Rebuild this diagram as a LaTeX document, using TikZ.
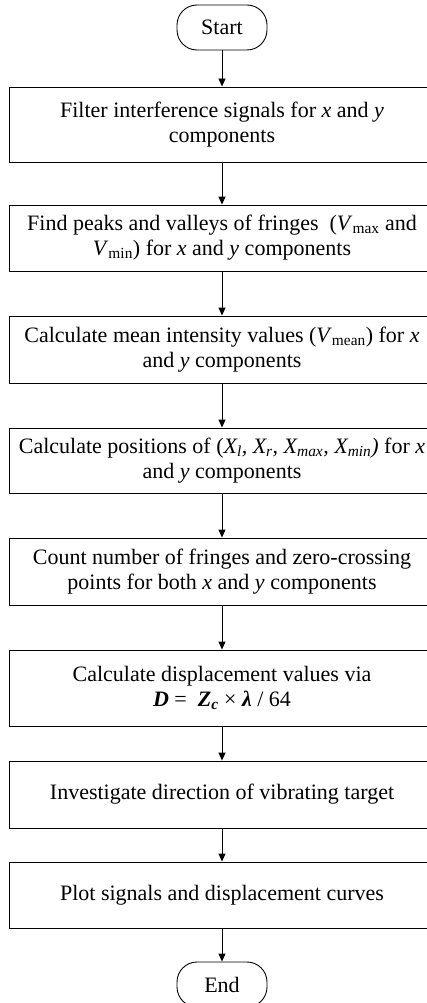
\documentclass[tikz,border=0pt]{standalone}
\usepackage{fontspec}
\setmainfont{Liberation Serif}
\usetikzlibrary{arrows.meta}
\tikzset{
  procbox/.style={draw=black, line width=0.9pt, minimum width=425pt, align=center, inner sep=0pt, font=\fontsize{22}{25}\selectfont},
  termbox/.style={draw=black, line width=0.9pt, minimum width=90pt, minimum height=45pt, rounded corners=20pt, inner sep=0pt, font=\fontsize{22}{25}\selectfont},
  flow/.style={draw=black, line width=0.9pt, -{Triangle[length=8pt,width=7pt]}}
}
\begin{document}
\begin{tikzpicture}[x=1pt,y=-1pt]
\useasboundingbox (0,0) rectangle (427,1003);
\clip (0,0) rectangle (427,1003);
\node[termbox] (start) at (222,27.5) {Start};
\node[procbox, minimum height=75pt] (b1) at (222,124.5) {Filter interference signals for \textit{x} and \textit{y}\\components};
\node[procbox, minimum height=66pt] (b2) at (222,238) {Find peaks and valleys of fringes \ (\textit{V}\textsubscript{max} and\\\textit{V}\textsubscript{min}) for \textit{x} and \textit{y} components};
\node[procbox, minimum height=67pt] (b3) at (222,349.5) {Calculate mean intensity values (\textit{V}\textsubscript{mean}) for \textit{x}\\and \textit{y} components};
\node[procbox, minimum height=65pt] (b4) at (222,460.5) {Calculate positions of (\textit{X\textsubscript{l}, X\textsubscript{r}, X\textsubscript{max}, X\textsubscript{min})} for \textit{x}\\and \textit{y} components};
\node[procbox, minimum height=67pt] (b5) at (222,571.5) {Count number of fringes and zero-crossing\\points for both \textit{x} and \textit{y} components};
\node[procbox, minimum height=76pt] (b6) at (222,688) {Calculate displacement values via\\{\bfseries\itshape D} = \ {\bfseries\itshape Z\textsubscript{c}} × {\bfseries\itshape λ} / 64};
\node[procbox, minimum height=67pt] (b7) at (222,794.5) {Investigate direction of vibrating target};
\node[procbox, minimum height=66pt] (b8) at (222,895) {Plot signals and displacement curves};
\node[termbox] (end) at (222,984.5) {End};
\draw[flow] (start) -- (b1);
\draw[flow] (b1) -- (b2);
\draw[flow] (b2) -- (b3);
\draw[flow] (b3) -- (b4);
\draw[flow] (b4) -- (b5);
\draw[flow] (b5) -- (b6);
\draw[flow] (b6) -- (b7);
\draw[flow] (b7) -- (b8);
\draw[flow] (b8) -- (end);
\end{tikzpicture}
\end{document}
